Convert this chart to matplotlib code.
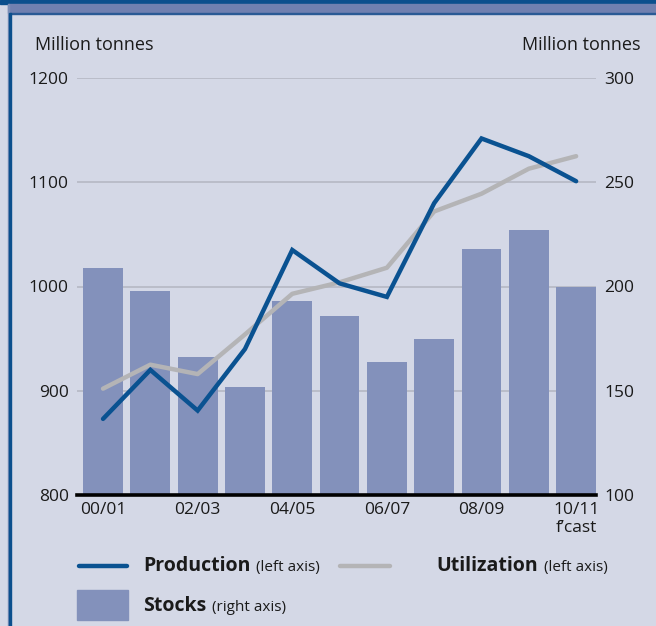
import numpy as np
import matplotlib.pyplot as plt
from matplotlib.lines import Line2D
from matplotlib.patches import Rectangle

plt.rcParams['font.family'] = ['Open Sans', 'DejaVu Sans']

seasons = ['00/01', '01/02', '02/03', '03/04', '04/05', '05/06',
           '06/07', '07/08', '08/09', '09/10', "10/11\nf\u2019cast"]
production = [873, 920, 881, 940, 1035, 1003, 990, 1080, 1142, 1125, 1101]
utilization = [902, 925, 916, 954, 993, 1004, 1018, 1072, 1089, 1113, 1125]
stocks = [209, 198, 166, 152, 193, 186, 164, 175, 218, 227, 200]

BG = '#d4d8e6'
BLUE = '#0a5291'
GREY = '#b4b4b6'
BAR = '#8391bb'
TXT = '#1a1a1a'

W, H = 656, 626
fig = plt.figure(figsize=(W / 100, H / 100), dpi=100, facecolor=BG)

# frame decorations
fig.patches.append(Rectangle((0, 1 - 4 / H), 1, 4 / H, transform=fig.transFigure,
                             color='#0b4f8d', zorder=0))
fig.patches.append(Rectangle((8 / W, 1 - 13 / H), 1, 9 / H, transform=fig.transFigure,
                             color='#7080b0', zorder=0))
fig.patches.append(Rectangle((9 / W, 1 - 14 / H), 1, 1.3 / H, transform=fig.transFigure,
                             color='#2a5a95', zorder=0))
fig.patches.append(Rectangle((8 / W, 0), 1.3 / W, 1 - 4 / H, transform=fig.transFigure,
                             color='#7c8fb8', zorder=0))
fig.patches.append(Rectangle((9.3 / W, 0), 1.3 / W, 1 - 13 / H, transform=fig.transFigure,
                             color='#0b4f8d', zorder=0))

ax = fig.add_axes([77 / W, 1 - 495 / H, (596 - 77) / W, (495 - 78) / H])
ax.set_facecolor('none')
ax2 = ax.twinx()
ax.set_zorder(2)
ax2.set_zorder(1)

x = np.arange(len(seasons))
ax2.bar(x, stocks, width=0.84, color=BAR, zorder=2)
ax2.set_ylim(100, 300)
ax2.set_yticks([100, 150, 200, 250, 300])

for yv in [900, 1000, 1100, 1200]:
    ax2.axhline(100 + (yv - 800) / 2, color='#b5b8c4', lw=1.2, zorder=1)

ax.plot(x, utilization, color=GREY, lw=3.2, solid_capstyle='round',
        solid_joinstyle='round', zorder=3)
ax.plot(x, production, color=BLUE, lw=3.2, solid_capstyle='round',
        solid_joinstyle='miter', zorder=4)
ax.set_ylim(800, 1200)
ax.set_yticks([800, 900, 1000, 1100, 1200])
ax.set_xlim(-0.55, 10.42)
ax.set_xticks(x[::2])
ax.set_xticklabels(seasons[::2], ha='center', va='top', linespacing=1.15)

for a in (ax, ax2):
    for s in a.spines.values():
        s.set_visible(False)
    a.tick_params(length=0, labelsize=12.5, colors=TXT)
ax.tick_params(axis='y', pad=6)
ax2.tick_params(axis='y', pad=6)
ax.tick_params(axis='x', pad=5)
ax.axhline(800, color='#000000', lw=2.6, zorder=5, clip_on=False)

fig.text(35 / W, 1 - 45 / H, 'Million tonnes', fontsize=13, color=TXT, va='center', ha='left')
fig.text(641 / W, 1 - 45 / H, 'Million tonnes', fontsize=13, color=TXT, va='center', ha='right')

# legend
def leg_text(xp, yp, bold, small):
    t = fig.text(xp / W, 1 - yp / H, bold, fontsize=14, fontweight='bold', color=TXT,
                 va='baseline', ha='left')
    fig.canvas.draw()
    bb = t.get_window_extent()
    fig.text((bb.x1 + 6) / W, 1 - yp / H, small, fontsize=11, color=TXT,
             va='baseline', ha='left')

fig.add_artist(Line2D([79 / W, 127 / W], [1 - 566 / H] * 2, color=BLUE, lw=3.2,
                      solid_capstyle='round', transform=fig.transFigure))
fig.add_artist(Line2D([340 / W, 390 / W], [1 - 566 / H] * 2, color=GREY, lw=3.2,
                      solid_capstyle='round', transform=fig.transFigure))
fig.patches.append(Rectangle((77 / W, 1 - 620 / H), 51 / W, 30 / H,
                             transform=fig.transFigure, color=BAR))
leg_text(143, 571, 'Production', '(left axis)')
leg_text(436, 571, 'Utilization', '(left axis)')
leg_text(143, 611, 'Stocks', '(right axis)')

fig.savefig('out.png', dpi=100, facecolor=BG)
